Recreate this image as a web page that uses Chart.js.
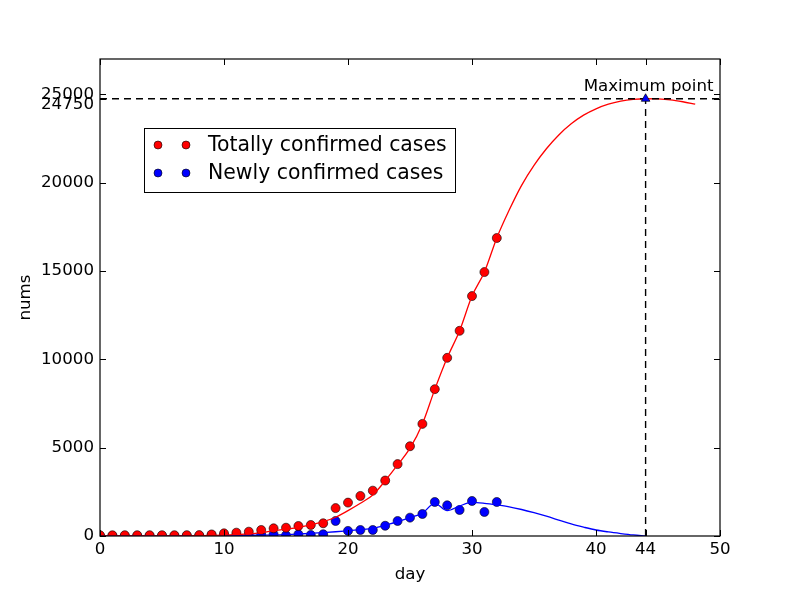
<!DOCTYPE html>
<html>
<head>
<meta charset="utf-8">
<title>Confirmed cases</title>
<script src="https://cdn.jsdelivr.net/npm/chart.js@4.4.1/dist/chart.umd.min.js"></script>
<style>
    html, body { margin: 0; padding: 0; background: #fff; }
    #wrap { width: 800px; height: 596px; }
</style>
</head>
<body>
<div id="wrap"><canvas id="casesChart" width="800" height="596"></canvas></div>
<script>
// observed days and values
const days = [0, 1, 2, 3, 4, 5, 6, 7, 8, 9, 10, 11, 12, 13, 14, 15, 16, 17, 18, 19, 20,
    21, 22, 23, 24, 25, 26, 27, 28, 29, 30, 31, 32];
const totalCases = [41, 41, 45, 45, 45, 45, 45, 48, 50, 90, 150, 190, 245, 340, 435, 470,
    566, 623, 720, 1580, 1890, 2266, 2567, 3140, 4070, 5080, 6346, 8311, 10085, 11615,
    13580, 14940, 16867];
const newCases = [0, 0, 0, 0, 4, 0, 0, 3, 5, 40, 56, 50, 55, 95, 95, 35, 94, 60, 100, 850,
    290, 340, 340, 580, 850, 1040, 1246, 1926, 1737, 1473, 1983, 1360, 1926];

// fitted curves
const fitDays = [0, 1, 2, 3, 4, 5, 6, 7, 8, 9, 10, 11, 12, 13, 14, 15, 16, 17, 18, 19, 20,
    21, 22, 23, 24, 25, 26, 27, 28, 29, 30, 31, 32, 33, 34, 35, 36, 37, 38, 39, 40, 41,
    42, 43, 44, 45, 46, 47, 48];
const totalFit = [0, 0, 0, 0, 0, 5, 8, 12, 20, 30, 50, 80, 120, 190, 300, 390, 490, 630,
    810, 1060, 1435, 1850, 2320, 3130, 4020, 4970, 6346, 8300, 10085, 11615, 13580, 14940,
    16870, 18450, 19850, 20980, 21920, 22700, 23330, 23820, 24180, 24440, 24610, 24710,
    24750, 24740, 24690, 24580, 24440];
const newFit = [0, 0, 0, 0, 0, 0, 0, 0, 0, 10, 20, 30, 40, 50, 57, 80, 113, 150, 190, 240,
    300, 360, 435, 600, 810, 1040, 1290, 1850, 1435, 1700, 1900, 1850, 1760, 1650, 1500,
    1320, 1120, 900, 680, 500, 340, 230, 140, 60, 0];

// peak of the fitted total
const peakDay = 44;
const peakValue = 24750;

const xTicks = [0, 10, 20, 30, 40, 44, 50];
const yTicks = [0, 5000, 10000, 15000, 20000, 24750, 25000];

const FONT = "'DejaVu Sans', sans-serif";
const TICK_SIZE = 16.67;

function toPoints(xs, ys) {
    return ys.map((v, i) => ({ x: xs[i], y: v }));
}

/*
| Frame, inward ticks, annotation and legend
*/
const decorations = {
    id: "decorations",
    afterDatasetsDraw(chart) {
        const { ctx, chartArea: a, scales: { x, y } } = chart;
        ctx.save();
        ctx.strokeStyle = "#000";
        ctx.lineWidth = 1;
        ctx.beginPath();
        xTicks.forEach(v => {
            const px = Math.round(x.getPixelForValue(v)) + 0.5;
            ctx.moveTo(px, a.bottom);
            ctx.lineTo(px, a.bottom - 6);
            ctx.moveTo(px, a.top);
            ctx.lineTo(px, a.top + 6);
        });
        yTicks.forEach(v => {
            const py = Math.round(y.getPixelForValue(v)) + 0.5;
            ctx.moveTo(a.left, py);
            ctx.lineTo(a.left + 6, py);
            ctx.moveTo(a.right, py);
            ctx.lineTo(a.right - 6, py);
        });
        ctx.stroke();
        ctx.lineWidth = 1.2;
        ctx.strokeRect(a.left, a.top, a.right - a.left, a.bottom - a.top);

        // the peak tick label sits a little below its tick, overlapping 25000
        ctx.fillStyle = "#000";
        ctx.font = TICK_SIZE + "px " + FONT;
        ctx.textAlign = "right";
        ctx.textBaseline = "middle";
        ctx.fillText(String(peakValue), a.left - 6, y.getPixelForValue(peakValue) + 6);

        // "Maximum point" label
        ctx.textAlign = "center";
        ctx.textBaseline = "alphabetic";
        ctx.fillText("Maximum point", x.getPixelForValue(peakDay) + 3,
            y.getPixelForValue(peakValue) - 8);

        // legend box
        const lx = a.left + 44, ly = a.top + 69, lw = 311, lh = 64;
        ctx.fillStyle = "#fff";
        ctx.fillRect(lx, ly, lw, lh);
        ctx.lineWidth = 1;
        ctx.strokeRect(lx + 0.5, ly + 0.5, lw, lh);
        const entries = [
            { label: "Totally confirmed cases", color: "#ff0000" },
            { label: "Newly confirmed cases", color: "#0000ff" }
        ];
        ctx.font = "20.4px " + FONT;
        ctx.textAlign = "left";
        ctx.textBaseline = "middle";
        entries.forEach((e, i) => {
            const cy = ly + 17 + i * 28;
            [lx + 14, lx + 42].forEach(cx => {
                ctx.beginPath();
                ctx.arc(cx, cy, 4, 0, Math.PI * 2);
                ctx.fillStyle = e.color;
                ctx.fill();
                ctx.lineWidth = 0.6;
                ctx.strokeStyle = "#000";
                ctx.stroke();
            });
            ctx.fillStyle = "#000";
            ctx.fillText(e.label, lx + 64, cy + 1);
        });
        ctx.restore();
    }
};

const canvas = document.getElementById("casesChart");

new Chart(canvas, {
    type: "line",
    data: {
        datasets: [
            {
                label: "Maximum point",
                data: [{ x: peakDay, y: peakValue }],
                showLine: false,
                pointStyle: "triangle",
                pointRadius: 5,
                backgroundColor: "#0000ff",
                borderColor: "#000",
                borderWidth: 0.7,
                order: 0
            },
            {
                label: "peak level",
                data: [{ x: 0, y: peakValue }, { x: 50, y: peakValue }],
                borderColor: "#000",
                borderWidth: 1.4,
                borderDash: [7, 5],
                pointRadius: 0,
                order: 1
            },
            {
                label: "peak day",
                data: [{ x: peakDay, y: 0 }, { x: peakDay, y: peakValue }],
                borderColor: "#000",
                borderWidth: 1.4,
                borderDash: [7, 5],
                pointRadius: 0,
                order: 1
            },
            {
                label: "total fit",
                data: toPoints(fitDays, totalFit),
                borderColor: "#ff0000",
                borderWidth: 1.3,
                cubicInterpolationMode: "monotone",
                pointRadius: 0,
                order: 2
            },
            {
                label: "new fit",
                data: toPoints(fitDays, newFit),
                borderColor: "#0000ff",
                borderWidth: 1.3,
                cubicInterpolationMode: "monotone",
                pointRadius: 0,
                order: 3
            },
            {
                label: "Totally confirmed cases",
                data: toPoints(days, totalCases),
                showLine: false,
                pointRadius: 4.5,
                backgroundColor: "#ff0000",
                borderColor: "#000",
                borderWidth: 0.6,
                order: 4
            },
            {
                label: "Newly confirmed cases",
                data: toPoints(days, newCases),
                showLine: false,
                pointRadius: 4.5,
                backgroundColor: "#0000ff",
                borderColor: "#000",
                borderWidth: 0.6,
                order: 5
            }
        ]
    },
    options: {
        responsive: false,
        animation: false,
        events: [],
        layout: { padding: { left: 0, right: 80, top: 59, bottom: 0 } },
        plugins: {
            legend: { display: false },
            tooltip: { enabled: false }
        },
        scales: {
            x: {
                type: "linear",
                min: 0,
                max: 50,
                afterBuildTicks: s => { s.ticks = xTicks.map(v => ({ value: v })); },
                afterFit: s => { s.height = 60; },
                grid: { display: false, drawTicks: false },
                border: { display: false },
                ticks: {
                    autoSkip: false,
                    maxRotation: 0,
                    padding: 4,
                    color: "#000",
                    font: { family: FONT, size: TICK_SIZE },
                    callback: v => String(v)
                },
                title: {
                    display: true,
                    text: "day",
                    color: "#000",
                    padding: { top: 0, bottom: 11 },
                    font: { family: FONT, size: TICK_SIZE }
                }
            },
            y: {
                type: "linear",
                min: 0,
                max: 27000,
                afterBuildTicks: s => { s.ticks = yTicks.map(v => ({ value: v })); },
                afterFit: s => { s.width = 100; },
                grid: { display: false, drawTicks: false },
                border: { display: false },
                ticks: {
                    autoSkip: false,
                    padding: 6,
                    color: "#000",
                    font: { family: FONT, size: TICK_SIZE },
                    callback: v => (v === peakValue ? "" : String(v))
                },
                title: {
                    display: true,
                    text: "nums",
                    color: "#000",
                    padding: { top: 16, bottom: 0 },
                    font: { family: FONT, size: TICK_SIZE }
                }
            }
        }
    },
    plugins: [decorations]
});
</script>
</body>
</html>
